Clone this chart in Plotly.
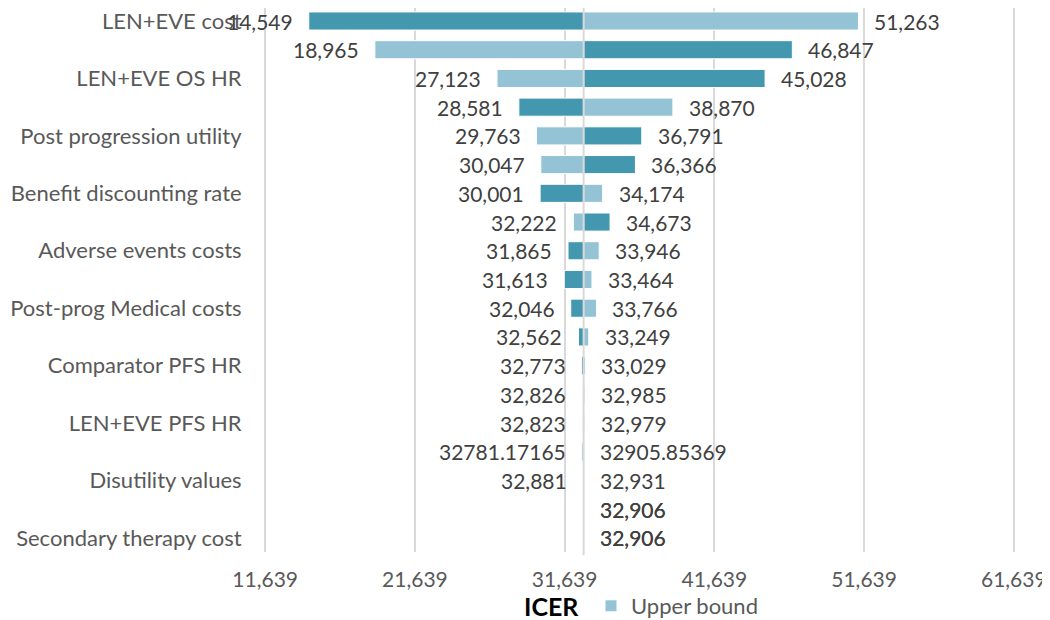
import plotly.graph_objects as go

# ---- data ----
BASE = 32905.8  # base-case ICER (shown as 32,906)
parameters = [
    "LEN+EVE cost", "LEN+EVE OS HR", "Post progression utility",
    "Benefit discounting rate", "Adverse events costs", "Post-prog Medical costs",
    "Comparator PFS HR", "LEN+EVE PFS HR", "Disutility values", "Secondary therapy cost",
]
lower_bound = [14549, 46847, 45028, 28581, 36791, 36366, 30001, 34673, 31865, 31613,
               32046, 32562, 32773, 32985, 32979, 32905.85369, 32931, 32905.8, 32905.8]
upper_bound = [51263, 18965, 27123, 38870, 29763, 30047, 34174, 32222, 33946, 33464,
               33766, 33249, 33029, 32826, 32823, 32781.17165, 32881, 32905.8, 32905.8]
unformatted_rows = [15]  # row whose labels show the raw number
x_ticks = [11639, 21639, 31639, 41639, 51639, 61639]

DARK = "#4397AF"
LIGHT = "#93C3D5"
FONT = "Lato"

rows = list(range(len(lower_bound)))


def fmt(v, r):
    return str(v) if r in unformatted_rows else f"{v:,.0f}"


# figure sits 8px inside the page (body margin), so sizes are 1042 x 612
W, H = 1042, 612
L, R, T, B = 256, 35, 0, 68
PW, PH = W - L - R, H - T - B

fig = go.Figure()
fig.add_trace(go.Bar(
    name="Lower bound", orientation="h", y=rows,
    x=[v - BASE for v in lower_bound], base=BASE,
    marker=dict(color=DARK, line=dict(color="white", width=1)),
    width=0.63, showlegend=False, hoverinfo="skip",
))
fig.add_trace(go.Bar(
    name="Upper bound", orientation="h", y=rows,
    x=[v - BASE for v in upper_bound], base=BASE,
    marker=dict(color=LIGHT, line=dict(color="white", width=1)),
    width=0.63, showlegend=True, hoverinfo="skip",
))

annotations = []
for series in (lower_bound, upper_bound):
    for r, v in zip(rows, series):
        left = v < BASE
        annotations.append(dict(
            x=v, y=r, xref="x", yref="y", text=fmt(v, r), showarrow=False,
            xanchor="right" if left else "left", yanchor="middle",
            xshift=-14 if left else 14,
            font=dict(family=FONT, size=21, color="#404040"),
        ))

annotations.append(dict(
    x=(543 - L) / PW, y=(PH - 598) / PH, xref="paper", yref="paper",
    text="<b>ICER</b>", showarrow=False, xanchor="center", yanchor="middle",
    font=dict(family=FONT, size=25, color="black"),
))

row_px = 28.72
y_top = -13 / row_px
y_bot = y_top + PH / row_px

fig.update_layout(
    width=W, height=H,
    margin=dict(l=L, r=R, t=T, b=B, autoexpand=False),
    paper_bgcolor="white", plot_bgcolor="white",
    barmode="overlay",
    font=dict(family=FONT, size=21, color="#595959"),
    annotations=annotations,
    shapes=[dict(type="line", xref="x", yref="paper", x0=BASE, x1=BASE, y0=-0.006, y1=1,
                 line=dict(color="#D9D9D9", width=2), layer="above")],
    legend=dict(orientation="h", xref="container", yref="container",
                x=583 / W, y=1 - 598 / H, xanchor="left", yanchor="middle",
                font=dict(family=FONT, size=22, color="#595959"),
                bgcolor="rgba(0,0,0,0)"),
)
fig.update_xaxes(
    range=[11559, 61719], tickvals=x_ticks, ticktext=[f"{t:,}" for t in x_ticks],
    showgrid=True, gridcolor="#D9D9D9", gridwidth=1.5, zeroline=False, showline=False,
    ticks="outside", ticklen=9, tickcolor="rgba(0,0,0,0)", automargin=False,
    ticklabeloverflow="allow",
    tickfont=dict(family=FONT, size=21, color="#595959"),
)
fig.update_yaxes(
    range=[y_bot, y_top], tickvals=rows[::2], ticktext=parameters,
    showgrid=False, zeroline=False, showline=False, automargin=False,
    ticks="outside", ticklen=17, tickcolor="rgba(0,0,0,0)",
    ticklabeloverflow="allow",
    tickfont=dict(family=FONT, size=22, color="#595959"),
)

fig.write_html("out.html")
